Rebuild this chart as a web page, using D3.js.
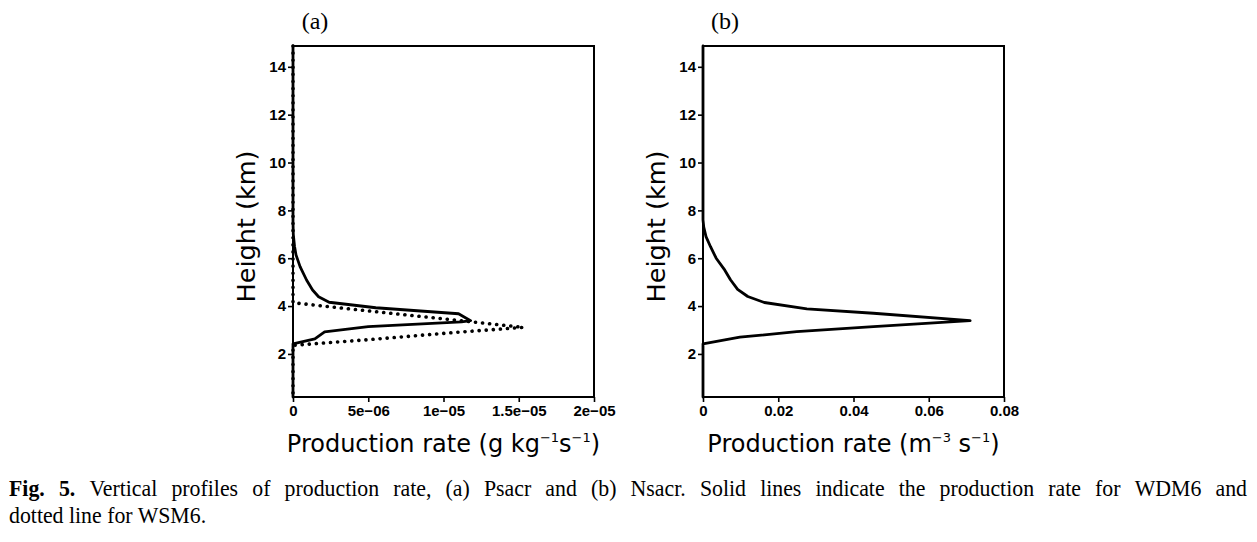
<!DOCTYPE html>
<html>
<head>
<meta charset="utf-8">
<script src="https://cdn.jsdelivr.net/npm/d3@7"></script>
<style>
  html, body { margin: 0; padding: 0; background: #fff; }
  svg { display: block; }
</style>
</head>
<body>
<svg id="chart" width="1257" height="542"></svg>
<script>
// heights (km) and production rates
const heightsA_wdm6 = [14.87, 7.5, 7.0, 6.5, 6.14, 5.65, 5.09, 4.67, 4.39, 4.16, 3.93, 3.68, 3.39, 3.34, 3.14, 2.92, 2.63, 2.42, 0.2];
const valuesA_wdm6  = [0, 0, 2e-8, 1e-7, 2e-7, 4.7e-7, 9e-7, 1.3e-6, 1.7e-6, 2.4e-6, 5.5e-6, 1.1e-5, 1.18e-5, 1.12e-5, 5e-6, 2.1e-6, 1.45e-6, 0, 0];

const heightsA_wsm6 = [14.87, 4.14, 3.9, 3.6, 3.3, 3.11, 2.9, 2.6, 2.36, 0.2];
const valuesA_wsm6  = [0, 0, 3.5e-6, 8e-6, 1.25e-5, 1.53e-5, 1.08e-5, 5.1e-6, 0, 0];

const heightsB_wdm6 = [14.87, 7.6, 7.3, 6.9, 6.48, 6.0, 5.5, 5.1, 4.7, 4.4, 4.15, 3.88, 3.7, 3.39, 3.14, 2.93, 2.7, 2.42, 0.2];
const valuesB_wdm6  = [0, 0, 0.0002, 0.0008, 0.002, 0.0035, 0.0058, 0.0073, 0.0092, 0.0119, 0.0163, 0.0276, 0.0453, 0.071, 0.0453, 0.0249, 0.0098, 0, 0];

const yTicks = [2, 4, 6, 8, 10, 12, 14];
const xTicksA = [0, 5e-6, 1e-5, 1.5e-5, 2e-5];
const xTickLabelsA = ["0", "5e\u221206", "1e\u221205", "1.5e\u221205", "2e\u221205"];
const xTicksB = [0, 0.02, 0.04, 0.06, 0.08];
const xTickLabelsB = ["0", "0.02", "0.04", "0.06", "0.08"];

const captionLine1 = "Vertical profiles of production rate, (a) Psacr and (b) Nsacr. Solid lines indicate the production rate for WDM6 and";
const captionLine2 = "dotted line for WSM6.";

const svg = d3.select("#chart");
const plotTop = 46, plotBottom = 397;

const y = d3.scaleLinear().domain([0.2, 14.87]).range([plotBottom, plotTop]);

function panel(opts) {
  const x = d3.scaleLinear().domain(opts.domain).range([opts.left, opts.right]);
  const g = svg.append("g");

  // axes: ticks outward on left and bottom only
  const yAxis = d3.axisLeft(y).tickValues(yTicks).tickSize(5).tickSizeOuter(0).tickPadding(2);
  const ya = g.append("g").attr("transform", `translate(${opts.left},0)`).call(yAxis);
  const xAxis = d3.axisBottom(x).tickValues(opts.ticks).tickSize(5).tickSizeOuter(0).tickPadding(3)
    .tickFormat((d, i) => opts.labels[i]);
  const xa = g.append("g").attr("transform", `translate(0,${plotBottom})`).call(xAxis);
  [ya, xa].forEach(a => {
    a.select(".domain").remove();
    a.selectAll(".tick line").attr("stroke", "#000").attr("stroke-width", 1.6);
    a.selectAll(".tick text")
      .attr("fill", "#000")
      .style("font-family", "'Liberation Sans', Arial, sans-serif")
      .style("font-weight", "bold")
      .style("font-size", "15px");
  });

  // series
  const line = d3.line().x(d => x(d[1])).y(d => y(d[0]));
  opts.series.forEach(s => {
    const pts = s.h.map((h, i) => [h, s.v[i]]);
    g.append("path")
      .attr("d", line(pts))
      .attr("fill", "none")
      .attr("stroke", "#000")
      .attr("stroke-width", s.dotted ? 3.6 : 2.8)
      .attr("stroke-linejoin", "round")
      .attr("stroke-linecap", "round")
      .attr("stroke-dasharray", s.dotted ? "0.1 7" : null);
  });

  // frame
  g.append("rect")
    .attr("x", opts.left).attr("y", plotTop)
    .attr("width", opts.right - opts.left).attr("height", plotBottom - plotTop)
    .attr("fill", "none").attr("stroke", "#000").attr("stroke-width", 2);

  // panel letter
  g.append("text")
    .attr("x", (opts.left + 22)).attr("y", 29)
    .attr("text-anchor", "middle")
    .style("font-family", "'Liberation Serif', 'Times New Roman', serif")
    .style("font-size", "24px")
    .text(opts.letter);

  // y label
  g.append("text")
    .attr("transform", `translate(${opts.left - 38},${(plotTop + plotBottom) / 2 + 5}) rotate(-90)`)
    .attr("text-anchor", "middle")
    .attr("textLength", 152)
    .attr("lengthAdjust", "spacingAndGlyphs")
    .style("font-family", "'DejaVu Sans', sans-serif")
    .style("font-size", "24px")
    .text("Height (km)");

  // x label with superscripts
  const xl = g.append("text")
    .attr("x", (opts.left + opts.right) / 2).attr("y", 452)
    .attr("text-anchor", "middle")
    .style("font-family", "'DejaVu Sans', sans-serif")
    .style("font-size", "24px");
  opts.xlabel.forEach(p => {
    const t = xl.append("tspan").text(p.t);
    if (p.sup) t.attr("dy", -10).style("font-size", "13px");
    else if (p.after) t.attr("dy", 10);
  });
}

panel({
  left: 293, right: 594, domain: [0, 2e-5], ticks: xTicksA, labels: xTickLabelsA, letter: "(a)",
  series: [
    { h: heightsA_wdm6, v: valuesA_wdm6, dotted: false },
    { h: heightsA_wsm6, v: valuesA_wsm6, dotted: true }
  ],
  xlabel: [
    { t: "Production rate (g kg" }, { t: "\u22121", sup: true },
    { t: "s", after: true }, { t: "\u22121", sup: true }, { t: ")", after: true }
  ]
});

panel({
  left: 703, right: 1004, domain: [0, 0.08], ticks: xTicksB, labels: xTickLabelsB, letter: "(b)",
  series: [
    { h: heightsB_wdm6, v: valuesB_wdm6, dotted: false }
  ],
  xlabel: [
    { t: "Production rate (m" }, { t: "\u22123", sup: true },
    { t: " s", after: true }, { t: "\u22121", sup: true }, { t: ")", after: true }
  ]
});

// caption in a slightly condensed serif; first line justified between x0 and x1
const capFont = "'Liberation Serif', 'Times New Roman', serif";
const capSize = 22.5, squeeze = 0.97;
const x0 = 9, x1 = 1247;
const words = [{ t: "Fig.", b: true }, { t: "5.", b: true }]
  .concat(captionLine1.split(" ").map(t => ({ t, b: false })));
const cap = svg.append("g")
  .attr("transform", `translate(${x0},0) scale(${squeeze},1)`)
  .style("font-family", capFont).style("font-size", capSize + "px").attr("fill", "#000");
const nodes = words.map(w => cap.append("text").attr("y", 496)
  .style("font-weight", w.b ? "bold" : "normal").text(w.t));
const widths = nodes.map(n => n.node().getComputedTextLength());
const span = (x1 - x0) / squeeze;
const gap = (span - d3.sum(widths)) / (words.length - 1);
let cx = 0;
nodes.forEach((n, i) => { n.attr("x", cx); cx += widths[i] + gap; });

cap.append("text").attr("x", 0).attr("y", 523).text(captionLine2);
</script>
</body>
</html>
